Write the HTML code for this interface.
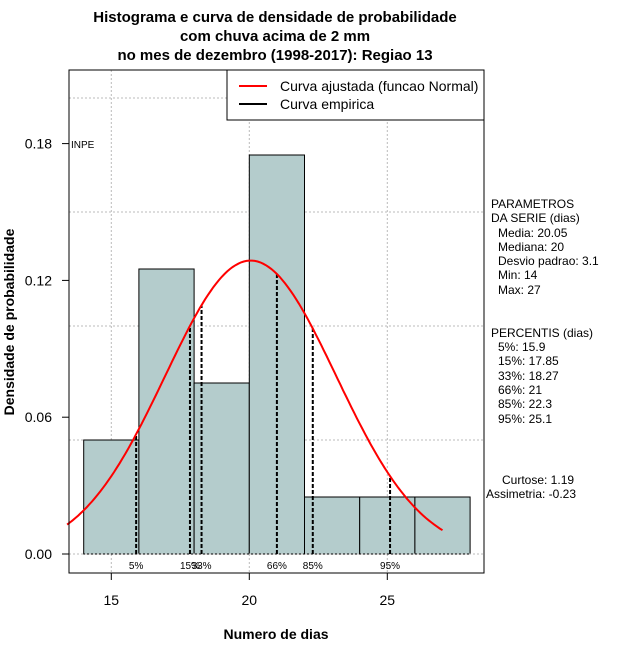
<!DOCTYPE html>
<html><head><meta charset="utf-8"><style>
body{margin:0;background:#fff}
text{font-family:"Liberation Sans",sans-serif}
</style></head><body>
<svg id="c" width="640" height="660" xmlns="http://www.w3.org/2000/svg">
<g id="g"></g>
</svg>
<script>
const binStarts=[14,16,18,20,22,24,26];
const binDensity=[0.05,0.125,0.075,0.175,0.025,0.025,0.025];
const pctLabels=["5%","15%","33%","66%","85%","95%"];
const pctValues=[15.9,17.85,18.27,21,22.3,25.1];
const xTicks=[15,20,25];
const yTicks=[0,0.06,0.12,0.18];
const yTickLabels=["0.00","0.06","0.12","0.18"];
const gridY=[0.05,0.1,0.15,0.2];
const mean=20.05, sd=3.1, binW=2;
const infoLines=["PARAMETROS","DA SERIE (dias)","   Media: 20.05","   Mediana: 20","   Desvio padrao: 3.1","   Min: 14","   Max: 27"];
const pctInfo=["PERCENTIS (dias)","   5%: 15.9","   15%: 17.85","   33%: 18.27","   66%: 21","   85%: 22.3","   95%: 25.1"];

const X=v=>249.3+(v-20)*27.6;
const Y=v=>554-v*2280;
const NS="http://www.w3.org/2000/svg";
const g=document.getElementById('g');
function el(t,a,txt){const e=document.createElementNS(NS,t);for(const k in a)e.setAttribute(k,a[k]);if(txt!==undefined)e.textContent=txt;g.appendChild(e);return e;}
const dens=x=>Math.exp(-0.5*((x-mean)/sd)**2)/(sd*Math.sqrt(2*Math.PI));

// grid
xTicks.forEach(t=>{const e=el('line',{x1:X(t),x2:X(t),y1:70,y2:573,stroke:'#bbb','stroke-dasharray':'2,2'});

});
gridY.forEach(t=>{const e=el('line',{x1:69,x2:484,y1:Y(t),y2:Y(t),stroke:'#bbb','stroke-dasharray':'2,2'});

});
// bars
binStarts.forEach((s,i)=>{const e=el('rect',{x:X(s),y:Y(binDensity[i]),width:X(s+binW)-X(s),height:Y(0)-Y(binDensity[i]),fill:'#b4cccc',stroke:'#000','stroke-width':1});

});
const zl=el('line',{x1:69,x2:484,y1:Y(0),y2:Y(0),stroke:'#bbb','stroke-dasharray':'2,2'});


// percentile lines
pctValues.forEach((p,i)=>{const e=el('line',{x1:X(p),x2:X(p),y1:Y(0),y2:Y(dens(p)),stroke:'#000','stroke-width':2,'stroke-dasharray':'4,2'});


const t=el('text',{x:X(p),y:569,'font-size':10,'text-anchor':'middle'},pctLabels[i]);

});
// normal curve
let d='';for(let x=13.4;x<=27.001;x+=0.1){d+=(d?'L':'M')+X(x).toFixed(1)+','+Y(dens(x)).toFixed(1);}
const cv=el('path',{d:d,fill:'none',stroke:'#f00','stroke-width':2});


// box
const bx=el('rect',{x:69,y:70,width:415,height:503,fill:'none',stroke:'#000'});


// axes
xTicks.forEach(t=>{el('line',{x1:X(t),x2:X(t),y1:573,y2:580,stroke:'#000'});
const e=el('text',{x:X(t),y:605,'font-size':14,'text-anchor':'middle'},t);

});
yTicks.forEach((t,i)=>{el('line',{x1:62,x2:69,y1:Y(t),y2:Y(t),stroke:'#000'});
const e=el('text',{x:52,y:Y(t)+5,'font-size':14,'text-anchor':'end'},yTickLabels[i]);

});
</script>
<svg width="640" height="660" style="position:absolute;left:0;top:0" xmlns="http://www.w3.org/2000/svg">
<g font-family="Liberation Sans, sans-serif">
<text x="275" y="22" font-size="15" font-weight="bold" text-anchor="middle">Histograma e curva de densidade de probabilidade</text>
<text x="275" y="41" font-size="15" font-weight="bold" text-anchor="middle">com chuva acima de 2 mm</text>
<text x="275" y="60" font-size="15" font-weight="bold" text-anchor="middle">no mes de dezembro (1998-2017): Regiao 13</text>
<text x="276" y="639" font-size="14" font-weight="bold" text-anchor="middle">Numero de dias</text>
<text transform="translate(14,322) rotate(-90)" font-size="14" font-weight="bold" text-anchor="middle">Densidade de probabilidade</text>
<text x="71" y="148" font-size="10">INPE</text>
<g>
<rect x="227" y="70" width="257" height="50" fill="#fff" stroke="#000"/>
<line x1="239" x2="267" y1="86" y2="86" stroke="#f00" stroke-width="2"/>
<line x1="239" x2="267" y1="104" y2="104" stroke="#000" stroke-width="2"/>
<text x="280" y="91" font-size="14">Curva ajustada (funcao Normal)</text>
<text x="280" y="109" font-size="14">Curva empirica</text>
</g>
<g font-size="12">
<text x="491" y="208">PARAMETROS</text><text x="491" y="222">DA SERIE (dias)</text>
<text x="498" y="237">Media: 20.05</text><text x="498" y="251">Mediana: 20</text>
<text x="498" y="265">Desvio padrao: 3.1</text><text x="498" y="279">Min: 14</text>
<text x="498" y="294">Max: 27</text>
</g>
<g font-size="12">
<text x="491" y="337">PERCENTIS (dias)</text>
<text x="498" y="351">5%: 15.9</text><text x="498" y="365">15%: 17.85</text>
<text x="498" y="380">33%: 18.27</text><text x="498" y="394">66%: 21</text>
<text x="498" y="408">85%: 22.3</text><text x="498" y="423">95%: 25.1</text>
</g>
<g font-size="12">
<text x="502" y="484">Curtose: 1.19</text>
<text x="486" y="498">Assimetria: -0.23</text>
</g>
</g>
</svg>
</body></html>
